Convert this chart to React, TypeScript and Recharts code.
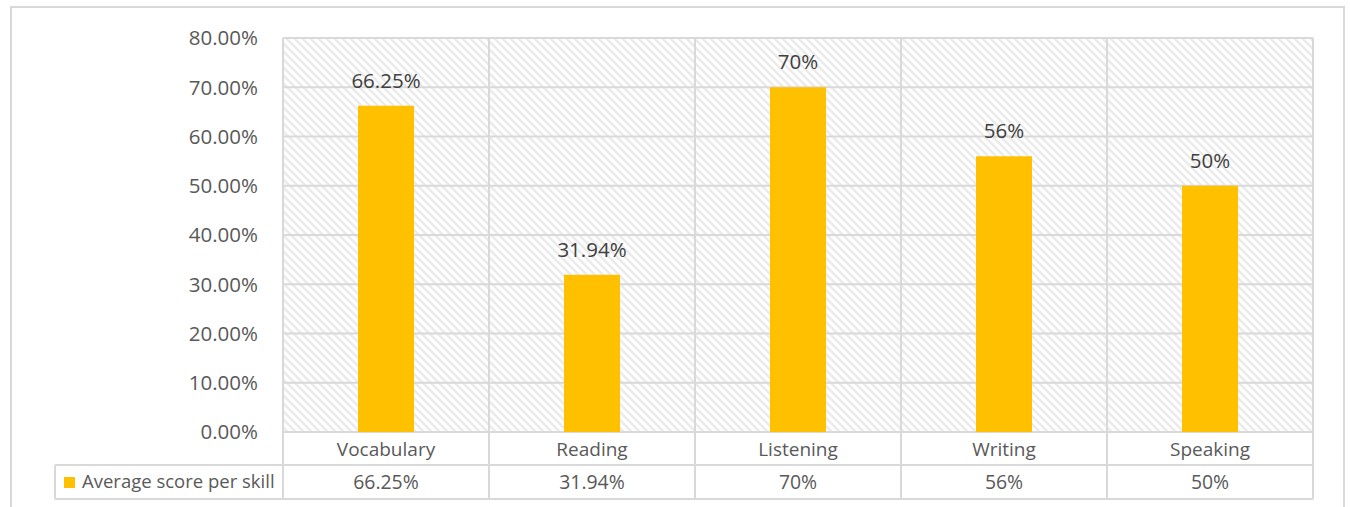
import { BarChart, Bar, XAxis, YAxis, CartesianGrid, LabelList } from "recharts";

// chart data
const categories = ["Vocabulary", "Reading", "Listening", "Writing", "Speaking"];
const scores = [0.6625, 0.3194, 0.7, 0.56, 0.5];
const scoreLabels = ["66.25%", "31.94%", "70%", "56%", "50%"];
const yTicks = [0, 0.1, 0.2, 0.3, 0.4, 0.5, 0.6, 0.7, 0.8];
const seriesName = "Average score per skill";

const W = 1350;
const H = 507;
const PLOT_LEFT = 283;
const PLOT_RIGHT = 1313;
const PLOT_TOP = 38;
const PLOT_BOTTOM = 432;
const ROW1 = 465;
const ROW2 = 499;
const LEGEND_LEFT = 55;

const FONT = "'Open Sans', 'Noto Sans', sans-serif";
const TEXT = "#595959";
const LINE = "#d9d9d9";
const BAR = "#FFC000";

const data = categories.map((c, i) => ({ name: c, value: scores[i], label: scoreLabels[i] }));

const TableTick = (props: any) => {
  const { x, y, payload, index } = props;
  return (
    <g>
      <text x={x} y={y + 17} dy="0.355em" textAnchor="middle" fontSize={19} fontFamily={FONT} fill={TEXT}>
        {payload.value}
      </text>
      <text x={x} y={y + 50} dy="0.355em" textAnchor="middle" fontSize={19.4} fontFamily={FONT} fill={TEXT}>
        {scoreLabels[index]}
      </text>
    </g>
  );
};

const TableLines = () => {
  const step = (PLOT_RIGHT - PLOT_LEFT) / categories.length;
  const xs = categories.map((_, i) => PLOT_LEFT + i * step).concat(PLOT_RIGHT);
  return (
    <svg width={W} height={H} style={{ position: "absolute", left: 0, top: 0, pointerEvents: "none" }}>
      <line x1={PLOT_LEFT} x2={PLOT_RIGHT} y1={PLOT_TOP} y2={PLOT_TOP} stroke={LINE} strokeWidth={2} />
      {xs.map((x, i) => (
        <line key={i} x1={x} x2={x} y1={PLOT_TOP} y2={ROW2} stroke={LINE} strokeWidth={2} />
      ))}
      <line x1={LEGEND_LEFT} x2={PLOT_RIGHT} y1={ROW1} y2={ROW1} stroke={LINE} strokeWidth={2} />
      <line x1={LEGEND_LEFT} x2={PLOT_RIGHT} y1={ROW2} y2={ROW2} stroke={LINE} strokeWidth={2} />
      <line x1={LEGEND_LEFT} x2={LEGEND_LEFT} y1={ROW1} y2={ROW2} stroke={LINE} strokeWidth={2} />
      <rect x={64} y={477} width={11} height={11} fill={BAR} />
      <text x={82} y={488} fontSize={18.5} fontFamily={FONT} fill={TEXT}>
        {seriesName}
      </text>
    </svg>
  );
};

export default function App() {
  return (
    <div style={{ position: "absolute", left: 0, top: 0, width: W, height: H, overflow: "hidden", background: "#fff" }}>
      <svg width={0} height={0} style={{ position: "absolute" }}>
        <defs>
          <pattern id="hatch" width={8} height={8} patternUnits="userSpaceOnUse">
            <rect width={8} height={8} fill="#fff" />
            <path d="M-2,6 L2,10 M0,0 L8,8 M6,-2 L10,2" stroke="#ebebeb" strokeWidth={2.5} />
          </pattern>
        </defs>
      </svg>
      <div
        style={{
          position: "absolute",
          left: 10,
          top: 6,
          width: 1331,
          height: 600,
          border: `2px solid ${LINE}`,
        }}
      />
      <div style={{ position: "absolute", left: 0, top: 0 }}>
        <BarChart width={W} height={H} data={data} margin={{ top: PLOT_TOP, right: W - PLOT_RIGHT, left: 0, bottom: 0 }}>
          <CartesianGrid vertical={false} stroke={LINE} strokeWidth={2} fill="url(#hatch)" fillOpacity={1} />
          <YAxis
            width={PLOT_LEFT}
            domain={[0, 0.8]}
            ticks={yTicks}
            tickFormatter={(v: number) => (v * 100).toFixed(2) + "%"}
            axisLine={false}
            tickLine={false}
            tickSize={0}
            tickMargin={25}
            interval={0}
            tick={{ fontSize: 20.5, fontFamily: FONT, fill: TEXT }}
          />
          <XAxis
            dataKey="name"
            height={H - PLOT_BOTTOM}
            axisLine={false}
            tickLine={false}
            tickSize={0}
            tickMargin={0}
            interval={0}
            tick={<TableTick />}
          />
          <Bar dataKey="value" name={seriesName} fill={BAR} barSize={56} isAnimationActive={false}>
            <LabelList
              dataKey="label"
              position="top"
              offset={18}
              fontSize={20.5}
              fontFamily={FONT}
              fill="#404040"
            />
          </Bar>
        </BarChart>
      </div>
      <TableLines />
    </div>
  );
}
